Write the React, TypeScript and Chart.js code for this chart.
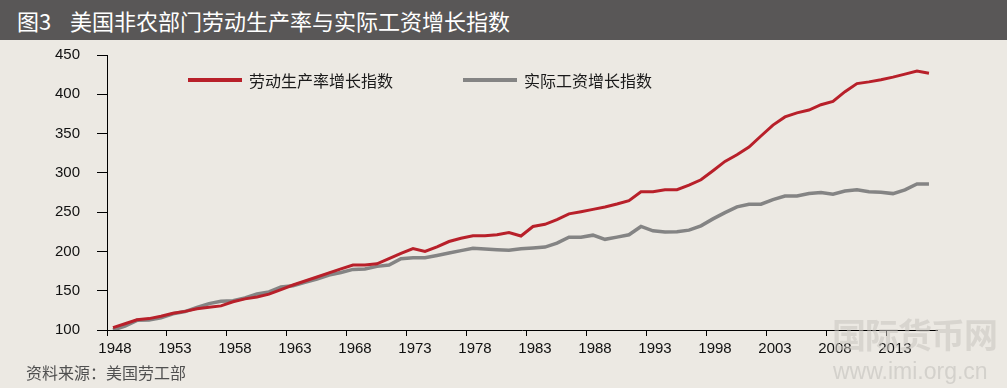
import React, { useEffect, useRef } from "react";
import { Chart, registerables } from "chart.js";

Chart.register(...registerables);

// Years 1948..2016
const years: number[] = Array.from({ length: 69 }, (_, i) => 1948 + i);

const tickYears: number[] = [1948, 1953, 1958, 1963, 1968, 1973, 1978, 1983, 1988, 1993, 1998, 2003, 2008, 2013];

const productivity: number[] = [
  103, 108, 113, 114.5, 117.6, 121.3, 123.7, 127.1, 128.9, 130.7,
  135.9, 139.6, 142, 145.7, 151.5, 157.3, 162.4, 167.5, 172.7, 177.8,
  182.7, 182.7, 184.2, 190.9, 197.6, 203.7, 199.9, 205.9, 212.6, 216.7,
  220, 220, 221.3, 224, 219.6, 231.7, 234.5, 240.5, 247.8, 250.5,
  253.5, 256.6, 260.3, 264.6, 276, 276, 278.6, 278.6, 284.3, 291.2,
  302.7, 314.6, 323, 332.8, 346.9, 360.8, 371.2, 376.3, 380, 386.7,
  390.9, 403.3, 413.6, 415.8, 418.4, 421.8, 425.7, 429.5, 426.7,
];

const realWage: number[] = [
  100, 104.8, 112.3, 112.6, 115.5, 120.7, 123.5, 128.6, 133.6, 136.7,
  137.3, 140.8, 145.9, 148.4, 154.9, 156.4, 160.8, 164.9, 170, 173.2,
  177.1, 177.6, 181, 182.7, 190.7, 192, 192, 194.9, 198, 201,
  204, 203.1, 202.2, 201.4, 203.3, 204.5, 205.5, 210.5, 218, 218,
  220.7, 215.4, 218.2, 221.2, 231.8, 226.2, 224.7, 225, 227.1, 232.6,
  241.4, 249.4, 256.7, 260, 260.1, 266, 270.5, 270.5, 273.7, 275.1,
  272.9, 276.8, 278.4, 276, 275.4, 273.6, 278.4, 285.8, 285.8,
];

const seriesLabels: string[] = ["劳动生产率增长指数", "实际工资增长指数"];
const seriesColors: string[] = ["#B8202A", "#848484"];

const TICK_FONT = { family: "'Liberation Sans', Arial, Helvetica, sans-serif", size: 15 };

const inlineLegend = {
  id: "inlineLegend",
  afterDraw(chart: any) {
    const { ctx, chartArea } = chart;
    const offsets = [81, 356];
    chart.data.datasets.forEach((ds: any, i: number) => {
      const x0 = chartArea.left + offsets[i];
      const y = chartArea.top + 25;
      ctx.save();
      ctx.strokeStyle = ds.borderColor;
      ctx.lineWidth = 4;
      ctx.beginPath();
      ctx.moveTo(x0, y);
      ctx.lineTo(x0 + 54, y);
      ctx.stroke();
      ctx.fillStyle = "#1a1a1a";
      ctx.font = "16px 'Noto Sans CJK SC', sans-serif";
      ctx.textBaseline = "middle";
      ctx.textAlign = "left";
      ctx.fillText(ds.label, x0 + 61, y + 1);
      ctx.restore();
    });
  },
};

export default function App() {
  const canvasRef = useRef<HTMLCanvasElement | null>(null);

  useEffect(() => {
    if (!canvasRef.current) return;
    const chart = new Chart(canvasRef.current, {
      type: "line",
      data: {
        datasets: [
          {
            label: seriesLabels[0],
            data: years.map((y, i) => ({ x: y, y: productivity[i] })),
            borderColor: seriesColors[0],
            backgroundColor: seriesColors[0],
            borderWidth: 3,
            pointRadius: 0,
            tension: 0,
          },
          {
            label: seriesLabels[1],
            data: years.map((y, i) => ({ x: y, y: realWage[i] })),
            borderColor: seriesColors[1],
            backgroundColor: seriesColors[1],
            borderWidth: 3.5,
            pointRadius: 0,
            tension: 0,
          },
        ],
      },
      options: {
        animation: false,
        responsive: false,
        maintainAspectRatio: false,
        layout: { padding: { top: 15, right: 70, left: 0, bottom: 0 } },
        plugins: {
          legend: { display: false },
          tooltip: { enabled: false },
          title: { display: false },
        },
        scales: {
          x: {
            type: "linear",
            min: 1947.5,
            max: 2016.67,
            afterBuildTicks: (scale: any) => {
              scale.ticks = tickYears.map((y) => ({ value: y - 0.5 }));
            },
            afterFit: (scale: any) => {
              scale.height = 58;
              scale.paddingLeft = 0;
              scale.paddingRight = 0;
            },
            ticks: {
              autoSkip: false,
              maxRotation: 0,
              labelOffset: 8,
              padding: 4,
              color: "#111",
              font: TICK_FONT,
              callback: (_v: any, i: number) => String(tickYears[i]),
            },
            grid: {
              drawOnChartArea: false,
              drawTicks: true,
              tickLength: 6,
              color: "#000",
              lineWidth: 1,
            },
            border: { display: true, color: "#000", width: 1 },
          },
          y: {
            min: 100,
            max: 450,
            afterFit: (scale: any) => {
              scale.width = 107;
              scale.paddingTop = 0;
              scale.paddingBottom = 0;
            },
            ticks: {
              stepSize: 50,
              padding: 17,
              color: "#111",
              font: TICK_FONT,
            },
            grid: {
              drawOnChartArea: false,
              drawTicks: true,
              tickLength: 10,
              color: "#000",
              lineWidth: 1,
            },
            border: { display: true, color: "#000", width: 1 },
          },
        },
      },
      plugins: [inlineLegend],
    } as any);
    return () => chart.destroy();
  }, []);

  return (
    <div
      style={{
        position: "absolute",
        left: 0,
        top: 0,
        width: 1007,
        height: 388,
        background: "#ECE9E3",
        overflow: "hidden",
      }}
    >
      <div
        style={{
          position: "absolute",
          left: 0,
          top: 0,
          width: 1007,
          height: 40,
          background: "#595757",
          color: "#fff",
          fontFamily: "'Noto Sans CJK SC', sans-serif",
          fontSize: 22,
          fontWeight: 400,
          lineHeight: "40px",
          whiteSpace: "nowrap",
        }}
      >
        <span style={{ position: "absolute", left: 17 }}>图3</span>
        <span style={{ position: "absolute", left: 70 }}>美国非农部门劳动生产率与实际工资增长指数</span>
      </div>
      <div style={{ position: "absolute", left: 0, top: 40, width: 1007, height: 348 }}>
        <canvas ref={canvasRef} width={1007} height={348} style={{ display: "block" }} />
      </div>
      <div
        style={{
          position: "absolute",
          left: 26,
          top: 362,
          fontFamily: "'Noto Sans CJK SC', sans-serif",
          fontSize: 16,
          lineHeight: "20px",
          color: "#505050",
          whiteSpace: "nowrap",
        }}
      >
        资料来源：美国劳工部
      </div>
      <div
        style={{
          position: "absolute",
          left: 832,
          top: 314,
          fontFamily: "'Noto Sans CJK SC', sans-serif",
          fontSize: 34,
          fontWeight: 700,
          lineHeight: "40px",
          color: "rgba(200,197,192,0.55)",
          whiteSpace: "nowrap",
          letterSpacing: -1,
        }}
      >
        国际货币网
      </div>
      <div
        style={{
          position: "absolute",
          left: 833,
          top: 358,
          fontFamily: "'Liberation Sans', Arial, sans-serif",
          fontSize: 23,
          lineHeight: "26px",
          color: "rgba(205,202,197,0.8)",
          whiteSpace: "nowrap",
        }}
      >
        www.imi.org.cn
      </div>
    </div>
  );
}
